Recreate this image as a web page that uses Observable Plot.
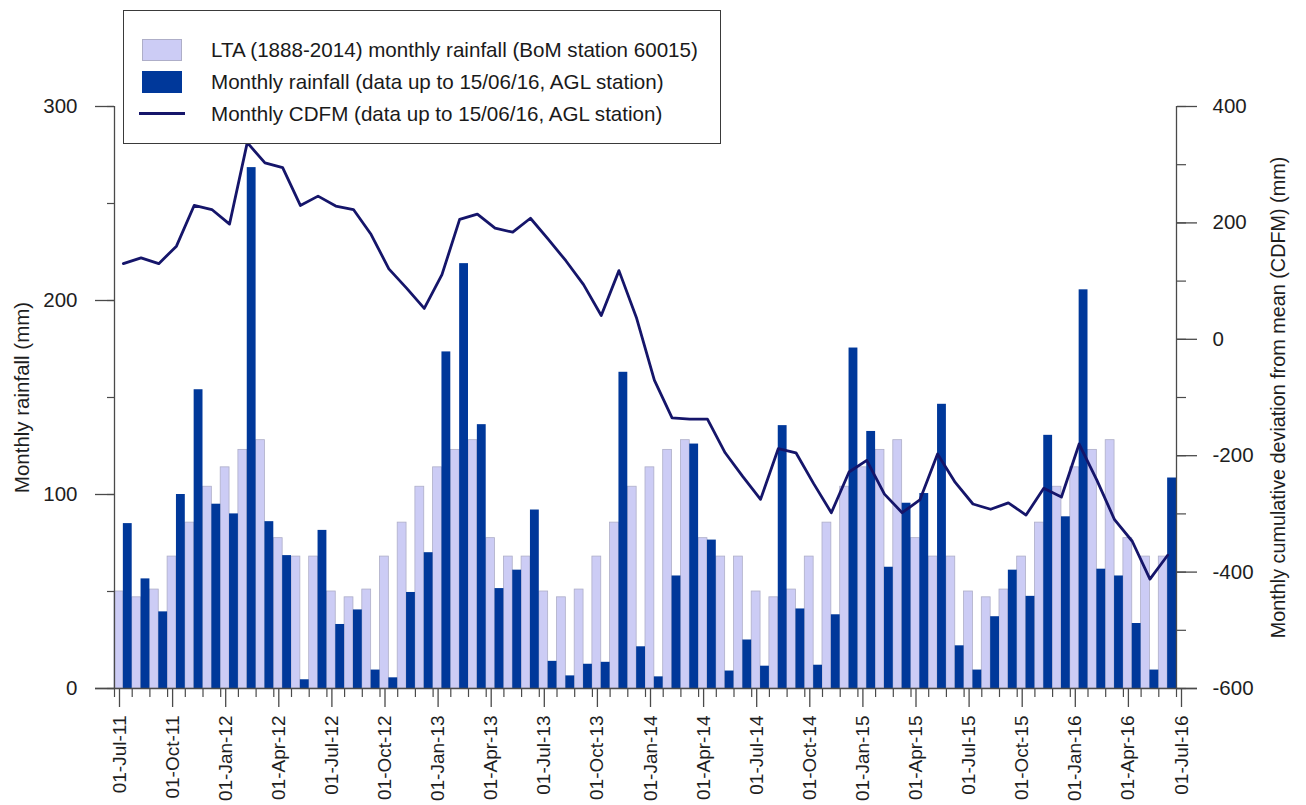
<!DOCTYPE html>
<html>
<head>
<meta charset="utf-8">
<script src="https://cdn.jsdelivr.net/npm/d3@7"></script>
<script src="https://cdn.jsdelivr.net/npm/@observablehq/plot@0.6"></script>
<style>
  html, body { margin: 0; padding: 0; background: #fff; }
  #chart { position: relative; width: 1306px; height: 805px; overflow: hidden;
           font-family: "Liberation Sans", Arial, sans-serif; }
  #legend { position: absolute; left: 123px; top: 10px; width: 598px; height: 134px;
            box-sizing: border-box; border: 1.5px solid #3a3a3a; background: #fff; z-index: 2; }
  #legend .sw { position: absolute; left: 18px; width: 40px; height: 22px; box-sizing: border-box; }
  #legend .ln { position: absolute; left: 15px; width: 46px; height: 3px; }
  #legend .tx { position: absolute; left: 87px; height: 32px; line-height: 32px;
                font-size: 20.6px; color: #1a1a1a; white-space: nowrap; }
</style>
</head>
<body>
<div id="chart"></div>
<script>
// Months from Jul-2011 to Jun-2016
const months = [
  "Jul-11","Aug-11","Sep-11","Oct-11","Nov-11","Dec-11","Jan-12","Feb-12","Mar-12","Apr-12","May-12","Jun-12",
  "Jul-12","Aug-12","Sep-12","Oct-12","Nov-12","Dec-12","Jan-13","Feb-13","Mar-13","Apr-13","May-13","Jun-13",
  "Jul-13","Aug-13","Sep-13","Oct-13","Nov-13","Dec-13","Jan-14","Feb-14","Mar-14","Apr-14","May-14","Jun-14",
  "Jul-14","Aug-14","Sep-14","Oct-14","Nov-14","Dec-14","Jan-15","Feb-15","Mar-15","Apr-15","May-15","Jun-15",
  "Jul-15","Aug-15","Sep-15","Oct-15","Nov-15","Dec-15","Jan-16","Feb-16","Mar-16","Apr-16","May-16","Jun-16"
];

// Long-term average monthly rainfall, BoM station 60015 (mm)
const ltaRain = [
  50, 47, 51, 68, 85.5, 104, 114, 123, 128, 77.5, 68, 68,
  50, 47, 51, 68, 85.5, 104, 114, 123, 128, 77.5, 68, 68,
  50, 47, 51, 68, 85.5, 104, 114, 123, 128, 77.5, 68, 68,
  50, 47, 51, 68, 85.5, 104, 114, 123, 128, 77.5, 68, 68,
  50, 47, 51, 68, 85.5, 104, 114, 123, 128, 77.5, 68, 68
];

// Monthly rainfall at the AGL station (mm)
const monthlyRain = [
  85, 56.5, 39.5, 100, 154, 95, 90, 268.5, 86, 68.5, 4.5, 81.5,
  33, 40.5, 9.5, 5.5, 49.5, 70, 173.5, 219, 136, 51.5, 61, 92,
  14, 6.5, 12.5, 13.5, 163, 21.5, 6, 58, 126, 76.5, 9, 25,
  11.5, 135.5, 41, 12, 38, 175.5, 132.5, 62.5, 95.5, 100.5, 146.5, 22,
  9.5, 37, 61, 47.5, 130.5, 88.5, 205.5, 61.5, 58, 33.5, 9.5, 108.5
];

// Monthly cumulative deviation from mean (mm)
const cdfm = [
  130, 140, 130, 160, 230, 223, 198, 338, 303, 295, 230, 246,
  229, 223, 180, 121, 88, 53, 111, 206, 215, 191, 184, 208,
  172, 135, 94, 41, 118, 36, -70, -135, -137, -137, -195, -236,
  -275, -188, -195, -248, -298, -228, -208, -266, -298, -276, -197, -246,
  -283, -292, -281, -302, -256, -271, -180, -242, -310, -347, -412, -371
];

// Quarterly date labels on the x axis
const tickLabels = [
  "01-Jul-11","01-Oct-11","01-Jan-12","01-Apr-12","01-Jul-12","01-Oct-12","01-Jan-13",
  "01-Apr-13","01-Jul-13","01-Oct-13","01-Jan-14","01-Apr-14","01-Jul-14","01-Oct-14",
  "01-Jan-15","01-Apr-15","01-Jul-15","01-Oct-15","01-Jan-16","01-Apr-16","01-Jul-16"
];

const rainTicks = [0, 100, 200, 300];
const cdfmTicks = [-600, -400, -200, 0, 200, 400];

const rows = months.map((month, i) => ({i, month, lta: ltaRain[i], rain: monthlyRain[i], cdfm: cdfm[i]}));

// The CDFM series shares the rainfall scale through this linear mapping (right axis)
const cdfmToRain = d3.scaleLinear([-600, 400], [0, 300]);

const colors = {lta: "#ccccf5", ltaEdge: "#aeaec8", rain: "#00389a", cdfm: "#15156a", axis: "#4a4a4a", text: "#1e1e1e"};
const blank = () => "";

const plot = Plot.plot({
  width: 1306,
  height: 805,
  marginLeft: 114,
  marginRight: 130,
  marginTop: 106,
  marginBottom: 117,
  x: {domain: [0, 60], axis: null},
  y: {domain: [0, 300], axis: null},
  style: {fontFamily: "'Liberation Sans', Arial, sans-serif", fontSize: "20.5px", color: colors.text, background: "#fff"},
  marks: [
    // LTA bars in the first half of each month, observed rainfall in the second half
    Plot.rectY(rows, {x1: "i", x2: d => d.i + 0.5, y: "lta", fill: colors.lta, stroke: colors.ltaEdge, strokeWidth: 0.8}),
    Plot.rectY(rows, {x1: d => d.i + 0.5, x2: d => d.i + 1, y: "rain", fill: colors.rain}),
    Plot.line(rows, {x: d => d.i + 0.5, y: d => cdfmToRain(d.cdfm), stroke: colors.cdfm, strokeWidth: 2.8}),

    // axis lines
    Plot.ruleX([0, 60], {stroke: colors.axis, strokeWidth: 1.3}),
    Plot.ruleY([0], {stroke: colors.axis, strokeWidth: 1.3, insetLeft: -19, insetRight: -21}),

    // x axis: monthly minor ticks, quarterly labelled ticks
    Plot.axisX(d3.range(0, 61), {tickSize: 9, tickFormat: blank, label: null, stroke: colors.axis, strokeWidth: 1.2}),
    Plot.axisX(d3.range(0, 61, 3), {tickSize: 19, tickPadding: 8, tickRotate: -90, dx: 5, fontSize: 19, label: null,
      tickFormat: i => tickLabels[i / 3], stroke: colors.axis, strokeWidth: 1.3, fill: colors.text}),

    // left axis: monthly rainfall
    Plot.axisY(d3.range(0, 301, 50), {tickSize: 7, tickFormat: blank, label: null, stroke: colors.axis, strokeWidth: 1.2}),
    Plot.axisY(rainTicks, {tickSize: 19, tickPadding: 18, tickFormat: d => String(d), label: null,
      stroke: colors.axis, strokeWidth: 1.3, fill: colors.text}),

    // right axis: CDFM
    Plot.axisY(d3.range(-600, 401, 100).map(cdfmToRain), {anchor: "right", tickSize: 9, tickFormat: blank, label: null,
      stroke: colors.axis, strokeWidth: 1.2}),
    Plot.axisY(cdfmTicks.map(cdfmToRain), {anchor: "right", tickSize: 20, tickPadding: 16, label: null,
      tickFormat: v => String(Math.round(cdfmToRain.invert(v))), stroke: colors.axis, strokeWidth: 1.3, fill: colors.text}),

    // axis titles
    Plot.text(["Monthly rainfall (mm)"], {text: d => d, frameAnchor: "left", textAnchor: "middle",
      rotate: -90, dx: -92, fontSize: 20.5, fill: colors.text}),
    Plot.text(["Monthly cumulative deviation from mean (CDFM) (mm)"], {text: d => d, frameAnchor: "right", textAnchor: "middle",
      rotate: -90, dx: 102, fontSize: 19.8, fill: colors.text})
  ]
});

const chart = document.getElementById("chart");
chart.appendChild(plot);

// Legend box drawn over the top of the plot area
const legendItems = [
  {label: "LTA (1888-2014) monthly rainfall (BoM station 60015)", kind: "lta"},
  {label: "Monthly rainfall (data up to 15/06/16, AGL station)", kind: "rain"},
  {label: "Monthly CDFM (data up to 15/06/16, AGL station)", kind: "cdfm"}
];
const legend = document.createElement("div");
legend.id = "legend";
legendItems.forEach((item, r) => {
  const cy = 38.5 + r * 32;
  if (item.kind === "cdfm") {
    const ln = document.createElement("div");
    ln.className = "ln";
    ln.style.top = (cy - 1.5) + "px";
    ln.style.background = colors.cdfm;
    legend.appendChild(ln);
  } else {
    const sw = document.createElement("div");
    sw.className = "sw";
    sw.style.top = (cy - 11) + "px";
    sw.style.background = colors[item.kind];
    if (item.kind === "lta") sw.style.border = "1px solid " + colors.ltaEdge;
    legend.appendChild(sw);
  }
  const tx = document.createElement("div");
  tx.className = "tx";
  tx.style.top = (cy - 16) + "px";
  tx.textContent = item.label;
  legend.appendChild(tx);
});
chart.appendChild(legend);
</script>
</body>
</html>
